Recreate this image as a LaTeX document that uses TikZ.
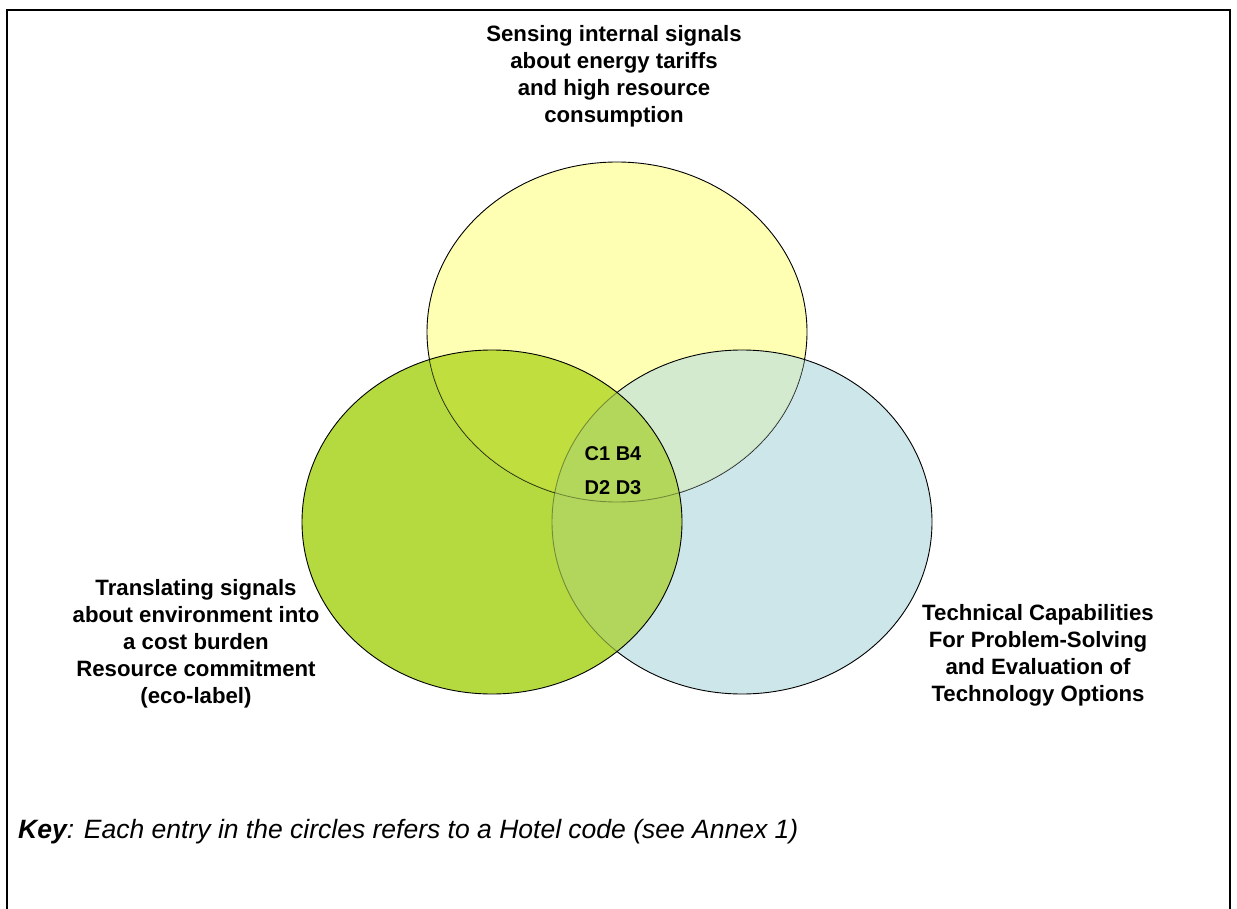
\documentclass[tikz,border=0pt]{standalone}
\usepackage{fontspec}
\setmainfont{Liberation Sans}
\begin{document}
\definecolor{cYel}{HTML}{FFFFB3}
\definecolor{cBlu}{HTML}{CDE6E9}
\definecolor{cGrn}{HTML}{B4DA40}
\definecolor{cYelGrn}{HTML}{C0DE3E}
\definecolor{cYelBlu}{HTML}{D3EACF}
\definecolor{cGrnBlu}{HTML}{B2D65C}
\definecolor{cAll}{HTML}{B3D75A}
\begin{tikzpicture}[x=1pt,y=-1pt,
  label/.style={inner sep=0pt, align=center, font=\fontsize{22.2}{27}\selectfont\bfseries},
  codes/.style={inner sep=0pt, align=center, font=\fontsize{20}{34}\selectfont\bfseries},
  outline/.style={draw=black, line width=0.9pt},
  faded/.style={draw=black, draw opacity=0.35, line width=0.9pt}]
\useasboundingbox (0,0) rectangle (1237,909);
\def\yel{(617,332) ellipse [x radius=190pt, y radius=170pt]}
\def\grn{(492,522) ellipse [x radius=190pt, y radius=172pt]}
\def\blu{(742,522) ellipse [x radius=190pt, y radius=172pt]}
% frame
\draw[line width=2pt] (7,920) -- (7,10) -- (1230,10) -- (1230,920);
% region fills
\fill[cYel] \yel;
\fill[cBlu] \blu;
\begin{scope}\clip \yel; \fill[cYelBlu] \blu; \end{scope}
\fill[cGrn] \grn;
\begin{scope}\clip \grn; \fill[cYelGrn] \yel; \end{scope}
\begin{scope}\clip \grn; \fill[cGrnBlu] \blu; \end{scope}
\begin{scope}\clip \grn; \clip \blu; \fill[cAll] \yel; \end{scope}
% outlines: yellow, then blue, then green on top
\draw[outline] \yel;
\begin{scope}\clip \blu; \fill[cYelBlu] \yel; \draw[faded] \yel; \end{scope}
\begin{scope}\clip \grn; \fill[cYelGrn] \yel; \end{scope}
\begin{scope}\clip \grn; \fill[cGrnBlu] \blu; \end{scope}
\begin{scope}\clip \grn; \clip \blu; \fill[cAll] \yel; \end{scope}
\begin{scope}\clip \grn; \draw[faded] \yel; \end{scope}
\begin{scope}[even odd rule]\clip (0,0) rectangle (1237,909) \grn; \draw[outline] \blu; \end{scope}
\begin{scope}\clip \grn; \draw[faded] \blu; \end{scope}
\draw[outline] \grn;
% labels
\node[label] (sensing) at (614,76) {Sensing internal signals\\about energy tariffs\\and high resource\\consumption};
\node[label] (translating) at (196,644) {Translating signals\\about environment into\\a cost burden\\Resource commitment\\(eco-label)};
\node[label] (technical) at (1038,655) {Technical Capabilities\\For Problem-Solving\\and Evaluation of\\Technology Options};
\node[codes] (hotels) at (613,471) {C1 B4\\D2 D3};
\node[inner sep=0pt, anchor=west, font=\fontsize{26.5}{30}\selectfont\itshape] (key) at (18,832) {\textbf{Key}: Each entry in the circles refers to a Hotel code (see Annex 1)};
\end{tikzpicture}
\end{document}
